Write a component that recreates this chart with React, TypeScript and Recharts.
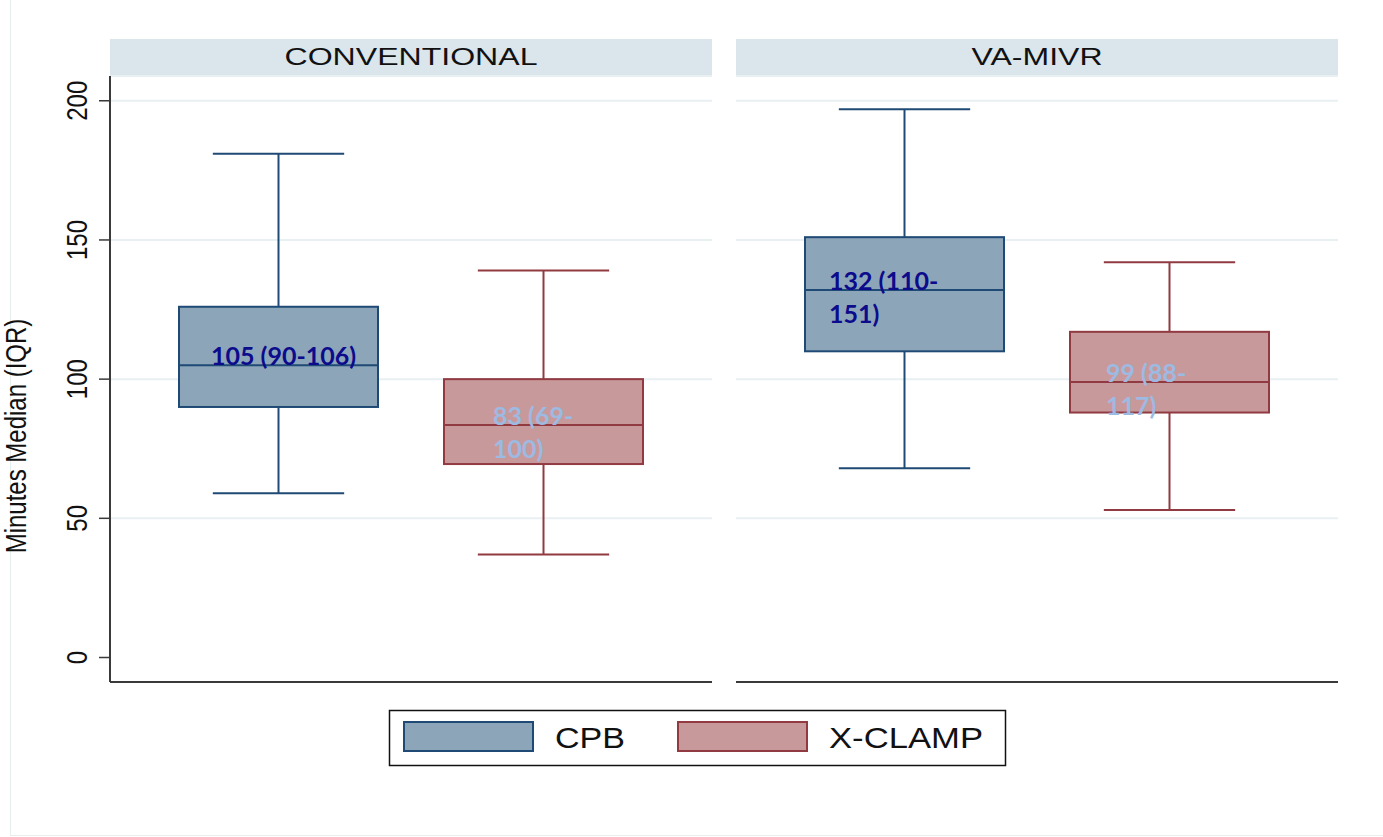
import { ComposedChart, Bar, XAxis, YAxis, CartesianGrid } from 'recharts';

// categories / panels
const groups = ['CPB', 'X-CLAMP'];
const panelTitles = ['CONVENTIONAL', 'VA-MIVR'];

// CONVENTIONAL panel (minutes)
const convMin = [59, 37];
const convQ1 = [90, 69.5];
const convMedian = [105, 83.5];
const convQ3 = [126, 100];
const convMax = [181, 139];
const convLabels = ['105 (90-106)', '83 (69-\n100)'];

// VA-MIVR panel (minutes)
const vaMin = [68, 53];
const vaQ1 = [110, 88];
const vaMedian = [132, 99];
const vaQ3 = [151, 117];
const vaMax = [197, 142];
const vaLabels = ['132 (110-\n151)', '99 (88-\n117)'];

const yTicks = [0, 50, 100, 150, 200];
const gridValues = [50, 100, 150, 200];
const yDomain = [-8.8, 208.9];

const fills: Record<string, string> = { CPB: '#8da5b9', 'X-CLAMP': '#c8999b' };
const strokes: Record<string, string> = { CPB: '#1f4a75', 'X-CLAMP': '#913a41' };
const labelColors: Record<string, string> = { CPB: '#0b0b8c', 'X-CLAMP': '#9dbae2' };

const buildRows = (mins: number[], q1s: number[], meds: number[], q3s: number[], maxs: number[], labels: string[]) =>
  groups.map((g, i) => ({
    group: g,
    min: mins[i],
    q1: q1s[i],
    median: meds[i],
    q3: q3s[i],
    max: maxs[i],
    box: [q1s[i], q3s[i]],
    label: labels[i],
  }));

const convRows = buildRows(convMin, convQ1, convMedian, convQ3, convMax, convLabels);
const vaRows = buildRows(vaMin, vaQ1, vaMedian, vaQ3, vaMax, vaLabels);

const FONT = '"Liberation Sans", Arial, sans-serif';

// draws whiskers, box, median and annotation from the bar's own (scaled) rect
const BoxShape = (props: any) => {
  const { x, y, width, height, payload, shift } = props;
  const { q1, q3, median, min, max, group, label } = payload;
  const ppu = height / (q3 - q1);
  const yOf = (v: number) => y + (q3 - v) * ppu;
  const cx = x + width / 2;
  const cap = width * 0.33;
  const stroke = strokes[group];
  const lines = String(label).split('\n');
  return (
    <g>
      <line x1={cx} x2={cx} y1={yOf(max)} y2={y} stroke={stroke} strokeWidth={2} />
      <line x1={cx} x2={cx} y1={y + height} y2={yOf(min)} stroke={stroke} strokeWidth={2} />
      <line x1={cx - cap} x2={cx + cap} y1={yOf(max)} y2={yOf(max)} stroke={stroke} strokeWidth={2} />
      <line x1={cx - cap} x2={cx + cap} y1={yOf(min)} y2={yOf(min)} stroke={stroke} strokeWidth={2} />
      <rect x={x} y={y} width={width} height={height} fill={fills[group]} stroke={stroke} strokeWidth={2} />
      <line x1={x} x2={x + width} y1={yOf(median)} y2={yOf(median)} stroke={stroke} strokeWidth={2} />
      {lines.map((t, i) => (
        <text
          key={i}
          x={x + shift}
          y={yOf(median) + i * 33}
          fill={labelColors[group]}
          fontFamily="Lato, 'Open Sans', sans-serif"
          fontWeight={700}
          fontSize={25}
        >
          {t}
        </text>
      ))}
    </g>
  );
};

const YTick = (p: any) => {
  const tx = p.x - 10;
  return (
    <text
      transform={`translate(${tx}, ${p.y}) scale(1.2, 1) rotate(-90)`}
      textAnchor="middle"
      fontFamily={FONT}
      fontSize={24}
      fill="#111"
    >
      {p.payload.value}
    </text>
  );
};

const Panel = ({ rows, shifts, showY }: { rows: any[]; shifts: number[]; showY: boolean }) => (
  <ComposedChart
    width={showY ? 712 : 671}
    height={700}
    data={rows}
    margin={{ top: 76, right: showY ? 0 : 45, bottom: 17, left: showY ? 0 : 24 }}
  >
    <CartesianGrid vertical={false} yAxisId="grid" stroke="#e9f0f2" strokeWidth={2} />
    <XAxis
      dataKey="group"
      type="category"
      padding={{ left: 36, right: 36 }}
      tick={false}
      tickLine={false}
      height={1}
      axisLine={{ stroke: '#3a3a3a', strokeWidth: 2 }}
    />
    <YAxis yAxisId="grid" hide type="number" domain={yDomain} ticks={gridValues} allowDataOverflow />
    <YAxis
      hide={!showY}
      width={110}
      type="number"
      domain={yDomain}
      ticks={yTicks}
      allowDataOverflow
      tickSize={11}
      tickLine={{ stroke: '#3a3a3a', strokeWidth: 1.5 }}
      axisLine={{ stroke: '#3a3a3a', strokeWidth: 2 }}
      tick={<YTick />}
      label={{
        content: () => (
          <text
            transform="translate(26, 436) scale(1.2, 1) rotate(-90)"
            textAnchor="middle"
            fontFamily={FONT}
            fontSize={24}
            fill="#111"
          >
            Minutes Median (IQR)
          </text>
        ),
      }}
    />
    <Bar
      dataKey="box"
      barSize={199}
      isAnimationActive={false}
      shape={(p: any) => <BoxShape {...p} shift={shifts[p.index]} />}
    />
  </ComposedChart>
);

export default function App() {
  const legendX = [404, 678];
  const legendTextX = [555, 829];
  const legendTextLen = [70, 154];
  return (
    <div style={{ position: 'absolute', left: 0, top: 0, width: 1383, height: 837, background: '#fff' }}>
      <svg width={1383} height={837} style={{ position: 'absolute', left: 0, top: 0 }}>
        <rect x={10.5} y={-5} width={1400} height={840.5} fill="none" stroke="#e6eeee" strokeWidth={1} />
        {panelTitles.map((t, i) => {
          const x0 = i === 0 ? 110 : 736;
          return (
            <g key={t}>
              <rect x={x0} y={39} width={602} height={37} fill="#dae6ec" />
              <text
                x={x0 + 301}
                y={65}
                textAnchor="middle"
                fontFamily={FONT}
                fontSize={23}
                fill="#111"
                textLength={i === 0 ? 253 : 131}
                lengthAdjust="spacingAndGlyphs"
              >
                {t}
              </text>
            </g>
          );
        })}
        <rect x={389.5} y={710.5} width={616} height={55} fill="#fff" stroke="#111" strokeWidth={1.5} />
        {groups.map((g, i) => (
          <g key={g}>
            <rect x={legendX[i]} y={722} width={129} height={29} fill={fills[g]} stroke={strokes[g]} strokeWidth={2} />
            <text
              x={legendTextX[i]}
              y={748}
              fontFamily={FONT}
              fontSize={29}
              fill="#111"
              textLength={legendTextLen[i]}
              lengthAdjust="spacingAndGlyphs"
            >
              {g}
            </text>
          </g>
        ))}
      </svg>
      <div style={{ position: 'absolute', left: 0, top: 0 }}>
        <Panel rows={convRows} shifts={[32, 49]} showY />
      </div>
      <div style={{ position: 'absolute', left: 712, top: 0 }}>
        <Panel rows={vaRows} shifts={[24, 36]} showY={false} />
      </div>
    </div>
  );
}
